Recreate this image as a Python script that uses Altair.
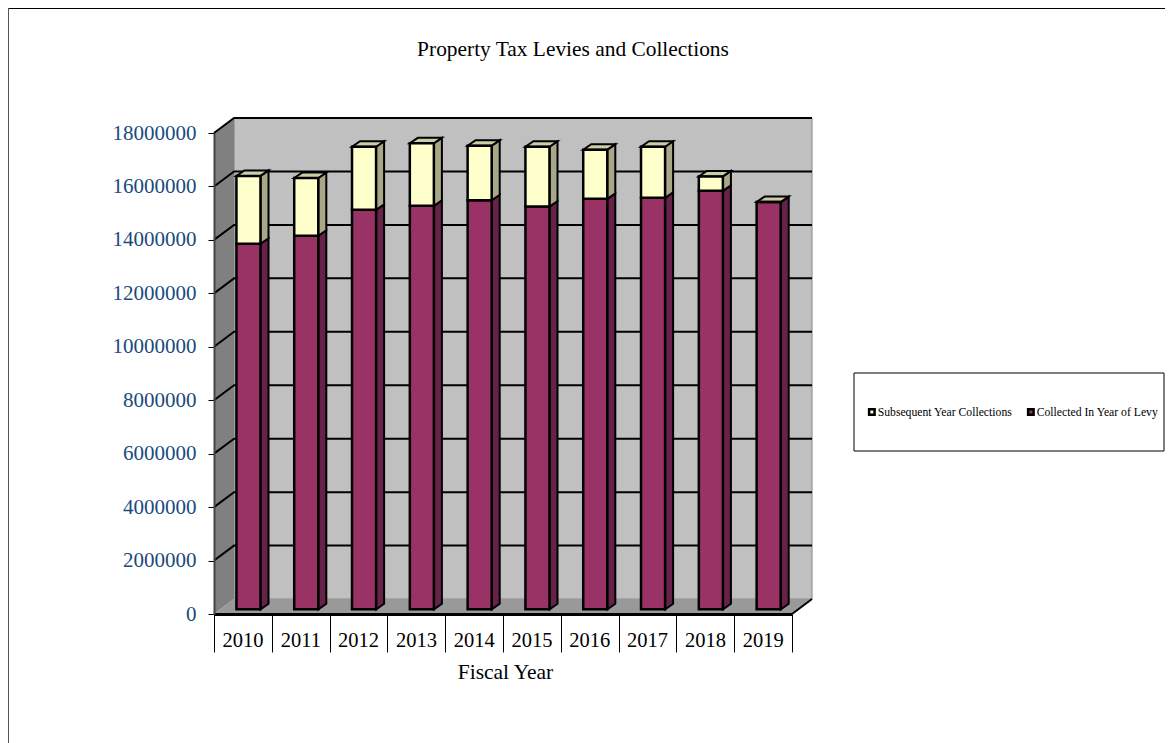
import altair as alt
import pandas as pd

years = [2010, 2011, 2012, 2013, 2014, 2015, 2016, 2017, 2018, 2019]
collected = [13680000, 13980000, 14950000, 15100000, 15310000, 15070000, 15360000, 15400000, 15660000, 15240000]
subsequent = [2540000, 2160000, 2360000, 2340000, 2040000, 2240000, 1840000, 1910000, 540000, 0]
series_names = ["Subsequent Year Collections", "Collected In Year of Levy"]
front_colors = ["#FFFFCC", "#993366"]
side_colors = ["#A8A888", "#662248"]
y_ticks = [0, 2000000, 4000000, 6000000, 8000000, 10000000, 12000000, 14000000, 16000000, 18000000]
grid_levels = y_ticks[1:-1]

# 3-D projection, expressed in axis units
WALL_DX, WALL_DY = 0.3466, 560000
BAR_LEFT, BAR_W = 0.388, 0.416
BAR_DX, BAR_DY = 0.139, 205000
BASE = 175000

FONT = "Liberation Serif"
WIDTH, HEIGHT = 578, 481
PAD = dict(left=206, top=125, right=373, bottom=129)

fronts, sides, tops = [], [], []
for i, y in enumerate(years):
    l = i + BAR_LEFT
    r = l + BAR_W
    c0, c1 = BASE, BASE + collected[i]
    t1 = c1 + subsequent[i]
    fronts.append(dict(x0=l, x1=r, y0=c0, y1=c1, series=series_names[1]))
    fronts.append(dict(x0=l, x1=r, y0=c1, y1=t1, series=series_names[0]))
    for key, a, b, col in ((f"{y}c", c0, c1, 1), (f"{y}s", c1, t1, 0)):
        sides.append(dict(k=key, x=r, lo=a, hi=b, col=col))
        sides.append(dict(k=key, x=r + BAR_DX, lo=a + BAR_DY, hi=b + BAR_DY, col=col))
    tops += [
        dict(k=y, x=l, lo=t1, hi=t1),
        dict(k=y, x=l + BAR_DX, lo=t1, hi=t1 + BAR_DY),
        dict(k=y, x=r, lo=t1, hi=t1 + BAR_DY),
        dict(k=y, x=r + BAR_DX, lo=t1 + BAR_DY, hi=t1 + BAR_DY),
    ]

n = len(years)
top_val = y_ticks[-1]
xs = alt.Scale(domain=[0, n], nice=False, zero=False)
ys = alt.Scale(domain=[0, top_val], nice=False, zero=False)
x_axis = alt.Axis(
    values=list(range(n + 1)), title="Fiscal Year", titleFont=FONT, titleFontSize=21.5,
    titleFontWeight="normal", titleColor="black", titlePadding=9, titleX=291,
    labelExpr="datum.value < %d ? format(%d + datum.value, 'd') : ''" % (n, years[0]),
    labelFont=FONT, labelFontSize=20.5, labelColor="black", labelOffset=28.5, labelPadding=-22,
    labelFlush=False, labelBound=False, labelOverlap=False, zindex=1,
    tickSize=38, tickColor="black", tickWidth=1, domainColor="black", domainWidth=3, grid=False)
y_axis = alt.Axis(
    values=y_ticks, title=None, format="d", labelFont=FONT, labelFontSize=21, labelColor="#1A4A7E",
    labelPadding=12, tickSize=6, tickColor="black", tickWidth=1, domainColor="#444444", domainWidth=2,
    zindex=1, grid=False)
X = alt.X("x:Q", scale=xs, axis=x_axis)
Y = alt.Y("lo:Q", scale=ys, axis=y_axis)

back = alt.Chart(pd.DataFrame([dict(x=WALL_DX, lo=WALL_DY, hi=top_val + WALL_DY),
                               dict(x=n + WALL_DX, lo=WALL_DY, hi=top_val + WALL_DY)])
                 ).mark_area(color="#C0C0C0", stroke="#8a8a8a", strokeWidth=1).encode(X, Y, y2="hi:Q")
left = alt.Chart(pd.DataFrame([dict(x=0, lo=0, hi=top_val),
                               dict(x=WALL_DX, lo=WALL_DY, hi=top_val + WALL_DY)])
                 ).mark_area(color="#808080").encode(X, Y, y2="hi:Q")
floor = alt.Chart(pd.DataFrame([dict(x=0, lo=0, hi=0), dict(x=WALL_DX, lo=0, hi=WALL_DY),
                                dict(x=n, lo=0, hi=WALL_DY), dict(x=n + WALL_DX, lo=WALL_DY, hi=WALL_DY)])
                  ).mark_area(color="#999999").encode(X, Y, y2="hi:Q")

grid_rows = []
for v in grid_levels + [top_val]:
    grid_rows += [dict(k=v, x=0, lo=v, o=0), dict(k=v, x=WALL_DX, lo=v + WALL_DY, o=1),
                  dict(k=v, x=n + WALL_DX, lo=v + WALL_DY, o=2)]
grid = alt.Chart(pd.DataFrame(grid_rows)).mark_line(color="black", strokeWidth=2).encode(
    X, Y, detail="k:N", order="o:Q")
edge = alt.Chart(pd.DataFrame([dict(x=n, lo=0), dict(x=n + WALL_DX, lo=WALL_DY)])
                 ).mark_line(color="black", strokeWidth=2).encode(X, Y)

sides_df = pd.DataFrame(sides)
side_c = alt.Chart(sides_df[sides_df.col == 1]).mark_area(
    fill=side_colors[1], stroke="black", strokeWidth=2).encode(X, Y, y2="hi:Q", detail="k:N")
side_s = alt.Chart(sides_df[sides_df.col == 0]).mark_area(
    fill=side_colors[0], stroke="black", strokeWidth=2).encode(X, Y, y2="hi:Q", detail="k:N")
top_marks = alt.Chart(pd.DataFrame(tops)).mark_area(fill="#CCCCA6", stroke="black", strokeWidth=2).encode(
    X, Y, y2="hi:Q", detail="k:N")

front_marks = alt.Chart(pd.DataFrame(fronts)).mark_rect(stroke="black", strokeWidth=2.5).encode(
    x=alt.X("x0:Q", scale=xs, axis=x_axis),
    x2="x1:Q",
    y=alt.Y("y0:Q", scale=ys, axis=y_axis),
    y2="y1:Q",
    fill=alt.Fill("series:N", scale=alt.Scale(domain=series_names, range=front_colors), legend=alt.Legend(
        orient="none", legendX=652, legendY=273, direction="horizontal", columns=2, title=None,
        labelFont=FONT, labelFontSize=11.7, labelColor="black", labelOffset=0, columnPadding=10,
        symbolType="square", symbolSize=30, symbolStrokeColor="black", symbolStrokeWidth=2.5,
        symbolOpacity=1)),
)

one = pd.DataFrame({"a": [0]})
legend_box = alt.Chart(one).mark_rect(fill="white", stroke="black", strokeWidth=1).encode(
    x=alt.value(640), x2=alt.value(950), y=alt.value(240), y2=alt.value(318))
frame_top = alt.Chart(one).mark_rule(color="black", strokeWidth=2).encode(
    x=alt.value(-206), x2=alt.value(960), y=alt.value(-125))
frame_left = alt.Chart(one).mark_rule(color="#555555", strokeWidth=2).encode(
    x=alt.value(-206), y=alt.value(-125), y2=alt.value(620))

chart = alt.layer(
    frame_top, frame_left, legend_box, back, left, floor, grid, edge,
    side_c, side_s, top_marks, front_marks,
).properties(
    width=WIDTH, height=HEIGHT, padding=PAD, autosize=alt.AutoSizeParams(type="none"),
    background="white",
    title=alt.TitleParams("Property Tax Levies and Collections", font=FONT, fontSize=21.4,
                          fontWeight="normal", color="black", anchor="middle", dx=70, offset=-53),
).configure_view(stroke=None)

chart.save("out.html", embed_options={"renderer": "svg", "actions": False})
